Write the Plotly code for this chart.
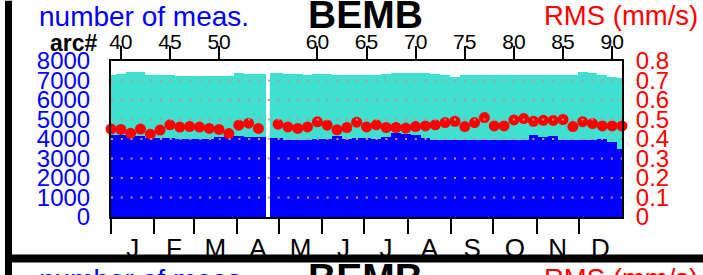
import plotly.graph_objects as go

# ---------------- data ----------------
arcs = [39, 40, 41, 42, 43, 44, 45, 46, 47, 48, 49, 50, 51, 52, 53, 54,
        56, 57, 58, 59, 60, 61, 62, 63, 64, 65, 66, 67, 68, 69, 70, 71, 72, 73,
        74, 75, 76, 77, 78, 79, 80, 81, 82, 83, 84, 85, 86, 87, 88, 89, 90, 91]
total_meas = [7290, 7350, 7430, 7430, 7290, 7280, 7260, 7250, 7240, 7240, 7250, 7240, 7250, 7360, 7330, 7330,
              7390, 7330, 7330, 7300, 7340, 7340, 7280, 7280, 7280, 7290, 7280, 7330, 7380, 7360, 7380, 7380,
              7310, 7300, 7200, 7280, 7290, 7290, 7290, 7280, 7280, 7280, 7280, 7280, 7270, 7270, 7270, 7430,
              7360, 7290, 7200, 7150]
sub_meas = [4200, 4200, 4150, 4150, 4030, 4030, 4030, 4000, 4000, 4000, 4000, 4120, 4150, 4170, 4080, 4080,
            4030, 3970, 3970, 3970, 4000, 4000, 4170, 4000, 4030, 4030, 4000, 4080, 4300, 4250, 4200, 4030,
            3970, 3970, 3970, 3970, 3970, 3970, 3970, 3970, 3930, 3930, 4200, 4100, 4170, 3930, 3930, 3930,
            3930, 4000, 3860, 3490]
rms = [0.451, 0.449, 0.429, 0.451, 0.425, 0.446, 0.473, 0.461, 0.464, 0.461, 0.454, 0.449, 0.428, 0.471, 0.481, 0.454,
       0.476, 0.462, 0.454, 0.462, 0.488, 0.471, 0.447, 0.459, 0.486, 0.462, 0.473, 0.459, 0.459, 0.456, 0.464, 0.467,
       0.473, 0.484, 0.491, 0.464, 0.484, 0.510, 0.467, 0.467, 0.498, 0.505, 0.491, 0.496, 0.495, 0.500, 0.464, 0.489,
       0.479, 0.467, 0.467, 0.467]

arc_ticks = [40, 45, 50, 60, 65, 70, 75, 80, 85, 90]
month_labels = ["J", "F", "M", "A", "M", "J", "J", "A", "S", "O", "N", "D"]
month_days = [31, 28, 31, 30, 31, 30, 31, 31, 30, 31, 30, 31]
meas_ticks = [0, 1000, 2000, 3000, 4000, 5000, 6000, 7000, 8000]
rms_ticks = [0, 0.1, 0.2, 0.3, 0.4, 0.5, 0.6, 0.7, 0.8]
grid_values = [1000, 2000, 3000, 4000, 5000, 6000, 7000]

station = "BEMB"
left_title = "number of meas."
right_title = "RMS (mm/s)"

# ---------------- layout helpers ----------------
W_FIG, H_FIG = 703, 275
L, R, T, B = 111, 622, 61, 219
FONT = "Liberation Sans, Arial, Helvetica, sans-serif"


def px(x):
    return (x - L) / (R - L)


def py(y):
    return (B - y) / (B - T)


month_start = [sum(month_days[:i]) for i in range(12)]
year_len = sum(month_days)
month_mid = [s + d / 2 for s, d in zip(month_start, month_days)]

# bar extents: neighbours of a missing arc reach part way into the gap
arc_set = set(arcs)
offsets, widths = [], []
for a in arcs:
    lo, hi = -0.5, 0.5
    if (a - 1) not in arc_set and a - 1 > arcs[0]:
        lo -= 0.3
    if (a + 1) not in arc_set and a + 1 < arcs[-1]:
        hi += 0.3
    offsets.append(lo)
    widths.append(hi - lo)

fig = go.Figure()
fig.add_trace(go.Bar(x=arcs, y=total_meas, offset=offsets, width=widths,
                     marker=dict(color="#40E0D0", line=dict(width=0)),
                     xaxis="x", yaxis="y", showlegend=False, hoverinfo="skip"))
fig.add_trace(go.Bar(x=arcs, y=sub_meas, offset=offsets, width=widths,
                     marker=dict(color="#0000FF", line=dict(width=0)),
                     xaxis="x", yaxis="y", showlegend=False, hoverinfo="skip"))
fig.add_trace(go.Scatter(x=arcs, y=rms, mode="markers",
                         marker=dict(color="#FF0000", size=11, line=dict(width=0)),
                         cliponaxis=False, xaxis="x", yaxis="y2", showlegend=False))
# empty carriers so the month axes (calendar scale) are drawn
for ax in ("x2", "x3"):
    fig.add_trace(go.Scatter(x=[0, year_len], y=[None, None], mode="markers",
                             xaxis=ax, yaxis="y", showlegend=False, hoverinfo="skip"))

axis_line = dict(showline=True, linecolor="black", linewidth=2, showgrid=False, zeroline=False)

fig.update_layout(
    width=W_FIG, height=H_FIG,
    margin=dict(l=L, r=W_FIG - R, t=T, b=H_FIG - B, pad=0),
    paper_bgcolor="white", plot_bgcolor="white",
    barmode="overlay", bargap=0,
    font=dict(family=FONT, color="black"),
    xaxis=dict(range=[39, 91], side="top", anchor="y",
               tickmode="array", tickvals=arc_ticks, ticktext=[str(t) for t in arc_ticks],
               ticks="outside", ticklen=13, tickwidth=2, tickcolor="black",
               tickfont=dict(size=21, color="black"), ticklabelstandoff=-11,
               **axis_line),
    xaxis2=dict(range=[0, year_len], overlaying="x", side="bottom", anchor="y",
                tickmode="array", tickvals=month_start, showticklabels=False,
                ticks="outside", ticklen=15, tickwidth=2, tickcolor="black",
                **axis_line),
    xaxis3=dict(range=[0, year_len], overlaying="x", side="bottom", anchor="y",
                tickmode="array", tickvals=month_mid, ticktext=month_labels,
                ticks="", tickfont=dict(size=26, color="black"), ticklabelstandoff=13,
                showline=False, showgrid=False, zeroline=False),
    yaxis=dict(range=[0, 8000], side="left", anchor="x",
               tickmode="array", tickvals=meas_ticks, ticktext=[str(v) for v in meas_ticks],
               ticks="outside", ticklen=14, tickwidth=0, tickcolor="rgba(0,0,0,0)",
               tickfont=dict(size=24, color="#0000FF"),
               **axis_line),
    yaxis2=dict(range=[0, 0.8], overlaying="y", side="right", anchor="x",
                tickmode="array", tickvals=rms_ticks, ticktext=[("%g" % v) for v in rms_ticks],
                ticks="", tickfont=dict(size=24, color="#FF0000"), ticklabelstandoff=7,
                **axis_line),
)

# dotted grid drawn above the bars
for v in grid_values:
    fig.add_shape(type="line", xref="paper", yref="y", x0=0, x1=1, y0=v, y1=v,
                  line=dict(color="#C89090", width=2, dash="2px,7.8px"), layer="above")

# frame of the multi-panel page
fig.add_shape(type="rect", xref="paper", yref="paper",
              x0=px(5), x1=px(12), y0=py(0), y1=py(H_FIG + 20),
              fillcolor="black", line=dict(width=0), layer="above")
fig.add_shape(type="rect", xref="paper", yref="paper",
              x0=px(5), x1=px(W_FIG + 10), y0=py(257), y1=py(265),
              fillcolor="black", line=dict(width=0), layer="above")

# titles (this panel and the top of the next one)
for off in (0, 266):
    fig.add_annotation(text=left_title, xref="paper", yref="paper", x=px(37), y=py(16 + off),
                       xanchor="left", yanchor="middle", showarrow=False,
                       font=dict(size=28, color="#0000FF"))
    fig.add_annotation(text="<b>%s</b>" % station, xref="paper", yref="paper", x=px(365.5), y=py(14 + off),
                       xanchor="center", yanchor="middle", showarrow=False,
                       font=dict(size=39, color="black"))
    fig.add_annotation(text=right_title, xref="paper", yref="paper", x=px(700), y=py(15 + off),
                       xanchor="right", yanchor="middle", showarrow=False,
                       font=dict(size=27.5, color="#FF0000"))

fig.add_annotation(text="<b>arc#</b>", xref="paper", yref="paper", x=px(100), y=py(43),
                   xanchor="right", yanchor="middle", showarrow=False,
                   font=dict(size=23, color="black"))

fig.write_html("out.html", config={"displayModeBar": False},
               post_script="document.body.style.margin='0';")
